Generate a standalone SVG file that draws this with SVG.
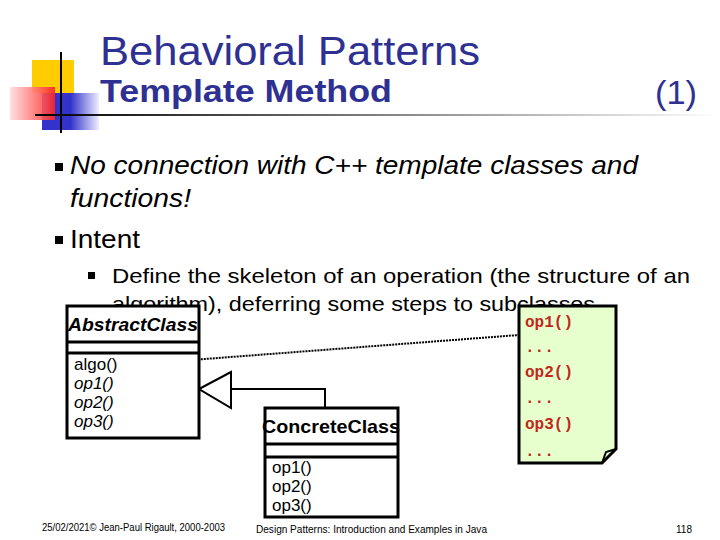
<svg xmlns="http://www.w3.org/2000/svg" width="720" height="540" viewBox="0 0 720 540">
<defs>
<linearGradient id="hl" x1="0" x2="1" y1="0" y2="0"><stop offset="0" stop-color="#000"/><stop offset="1" stop-color="#fff"/></linearGradient>
<linearGradient id="rd" x1="1" x2="0" y1="0" y2="0"><stop offset="0" stop-color="#f22"/><stop offset="1" stop-color="#fdd"/></linearGradient>
<linearGradient id="bl" x1="0" x2="1" y1="0" y2="0"><stop offset="0.5" stop-color="#33c"/><stop offset="1" stop-color="#eef"/></linearGradient>
</defs>
<style>
text{font-family:"Liberation Sans",Arial,sans-serif}
.t{fill:#2e3192}
.b{font-size:25px;fill:#000}
.box{fill:#fff;stroke:#000;stroke-width:3}
.m{font-size:17px}
.r{font-family:"Liberation Mono","Courier New",monospace;font-weight:bold;fill:#c0281e;font-size:16px}
.f{font-size:10px}
</style>
<rect width="720" height="540" fill="#fff"/>
<g id="deco">
<rect x="32" y="60" width="42" height="33" fill="#fc0"/>
<rect x="42" y="93" width="57" height="37" fill="url(#bl)"/>
<rect x="10" y="87" width="45" height="33" fill="url(#rd)" opacity="0.9"/>
<line x1="61" y1="52" x2="61" y2="133" stroke="#000" stroke-width="2"/>
<rect x="35" y="114" width="685" height="2" fill="url(#hl)"/>
</g>
<text class="t" x="100" y="65" font-size="40" textLength="380" lengthAdjust="spacingAndGlyphs">Behavioral Patterns</text>
<text class="t" x="100" y="102" font-size="32" font-weight="bold" textLength="292" lengthAdjust="spacingAndGlyphs">Template Method</text>
<text class="t" x="655" y="104" font-size="34" textLength="42" lengthAdjust="spacingAndGlyphs">(1)</text>
<rect x="55" y="163" width="8" height="8" fill="#000"/>
<rect x="55" y="236" width="8" height="8" fill="#000"/>
<text class="b" x="70" y="174" font-style="italic" textLength="568" lengthAdjust="spacingAndGlyphs">No connection with C++ template classes and</text>
<text class="b" x="70" y="207" font-style="italic" textLength="121" lengthAdjust="spacingAndGlyphs">functions!</text>
<text class="b" x="70" y="248" textLength="70" lengthAdjust="spacingAndGlyphs">Intent</text>
<rect x="88" y="272" width="7" height="7" fill="#000"/>
<text x="112" y="283" font-size="21" textLength="578" lengthAdjust="spacingAndGlyphs">Define the skeleton of an operation (the structure of an</text>
<text x="112" y="311" font-size="21" textLength="483" lengthAdjust="spacingAndGlyphs">algorithm), deferring some steps to subclasses</text>
<g id="connectors">
<line x1="126" y1="365" x2="519" y2="335" stroke="#000" stroke-width="2" stroke-dasharray="2 1"/>
<polyline points="231,389 325,389 325,408" fill="none" stroke="#000" stroke-width="2"/>
<polygon points="199,389 231,372 231,408" fill="#fff" stroke="#000" stroke-width="2"/>
</g>
<g id="abstract">
<rect class="box" x="67" y="306" width="132" height="132"/>
<line x1="67" y1="342" x2="199" y2="342" stroke="#000" stroke-width="3"/>
<line x1="67" y1="353" x2="199" y2="353" stroke="#000" stroke-width="3"/>
<text x="133" y="331" text-anchor="middle" font-size="19" font-weight="bold" font-style="italic" textLength="130" lengthAdjust="spacingAndGlyphs">AbstractClass</text>
<text class="m" x="74" y="370">algo()</text>
<text class="m" x="74" y="389" font-style="italic">op1()</text>
<text class="m" x="74" y="408" font-style="italic">op2()</text>
<text class="m" x="74" y="427" font-style="italic">op3()</text>
</g>
<g id="concrete">
<rect class="box" x="265" y="408" width="133" height="109"/>
<line x1="265" y1="444" x2="398" y2="444" stroke="#000" stroke-width="3"/>
<line x1="265" y1="457" x2="398" y2="457" stroke="#000" stroke-width="3"/>
<text x="331" y="433" text-anchor="middle" font-size="19" font-weight="bold" textLength="138" lengthAdjust="spacingAndGlyphs">ConcreteClass</text>
<text class="m" x="272" y="473">op1()</text>
<text class="m" x="272" y="492">op2()</text>
<text class="m" x="272" y="511">op3()</text>
</g>
<g id="note">
<path d="M519,306 H616 V449 L602,463 H519 Z" fill="#e6ffcc" stroke="#000" stroke-width="3"/>
<path d="M616,449 L606,452 L602,463" fill="none" stroke="#000" stroke-width="2"/>
<text class="r" x="525" y="327">op1()</text>
<text class="r" x="525" y="352">...</text>
<text class="r" x="525" y="377">op2()</text>
<text class="r" x="525" y="403">...</text>
<text class="r" x="525" y="429">op3()</text>
<text class="r" x="525" y="456">...</text>
</g>
<text class="f" x="42" y="531" textLength="183" lengthAdjust="spacingAndGlyphs">25/02/2021© Jean-Paul Rigault, 2000-2003</text>
<text class="f" x="256" y="533" textLength="231" lengthAdjust="spacingAndGlyphs">Design Patterns: Introduction and Examples in Java</text>
<text class="f" x="676" y="533">118</text>
</svg>
